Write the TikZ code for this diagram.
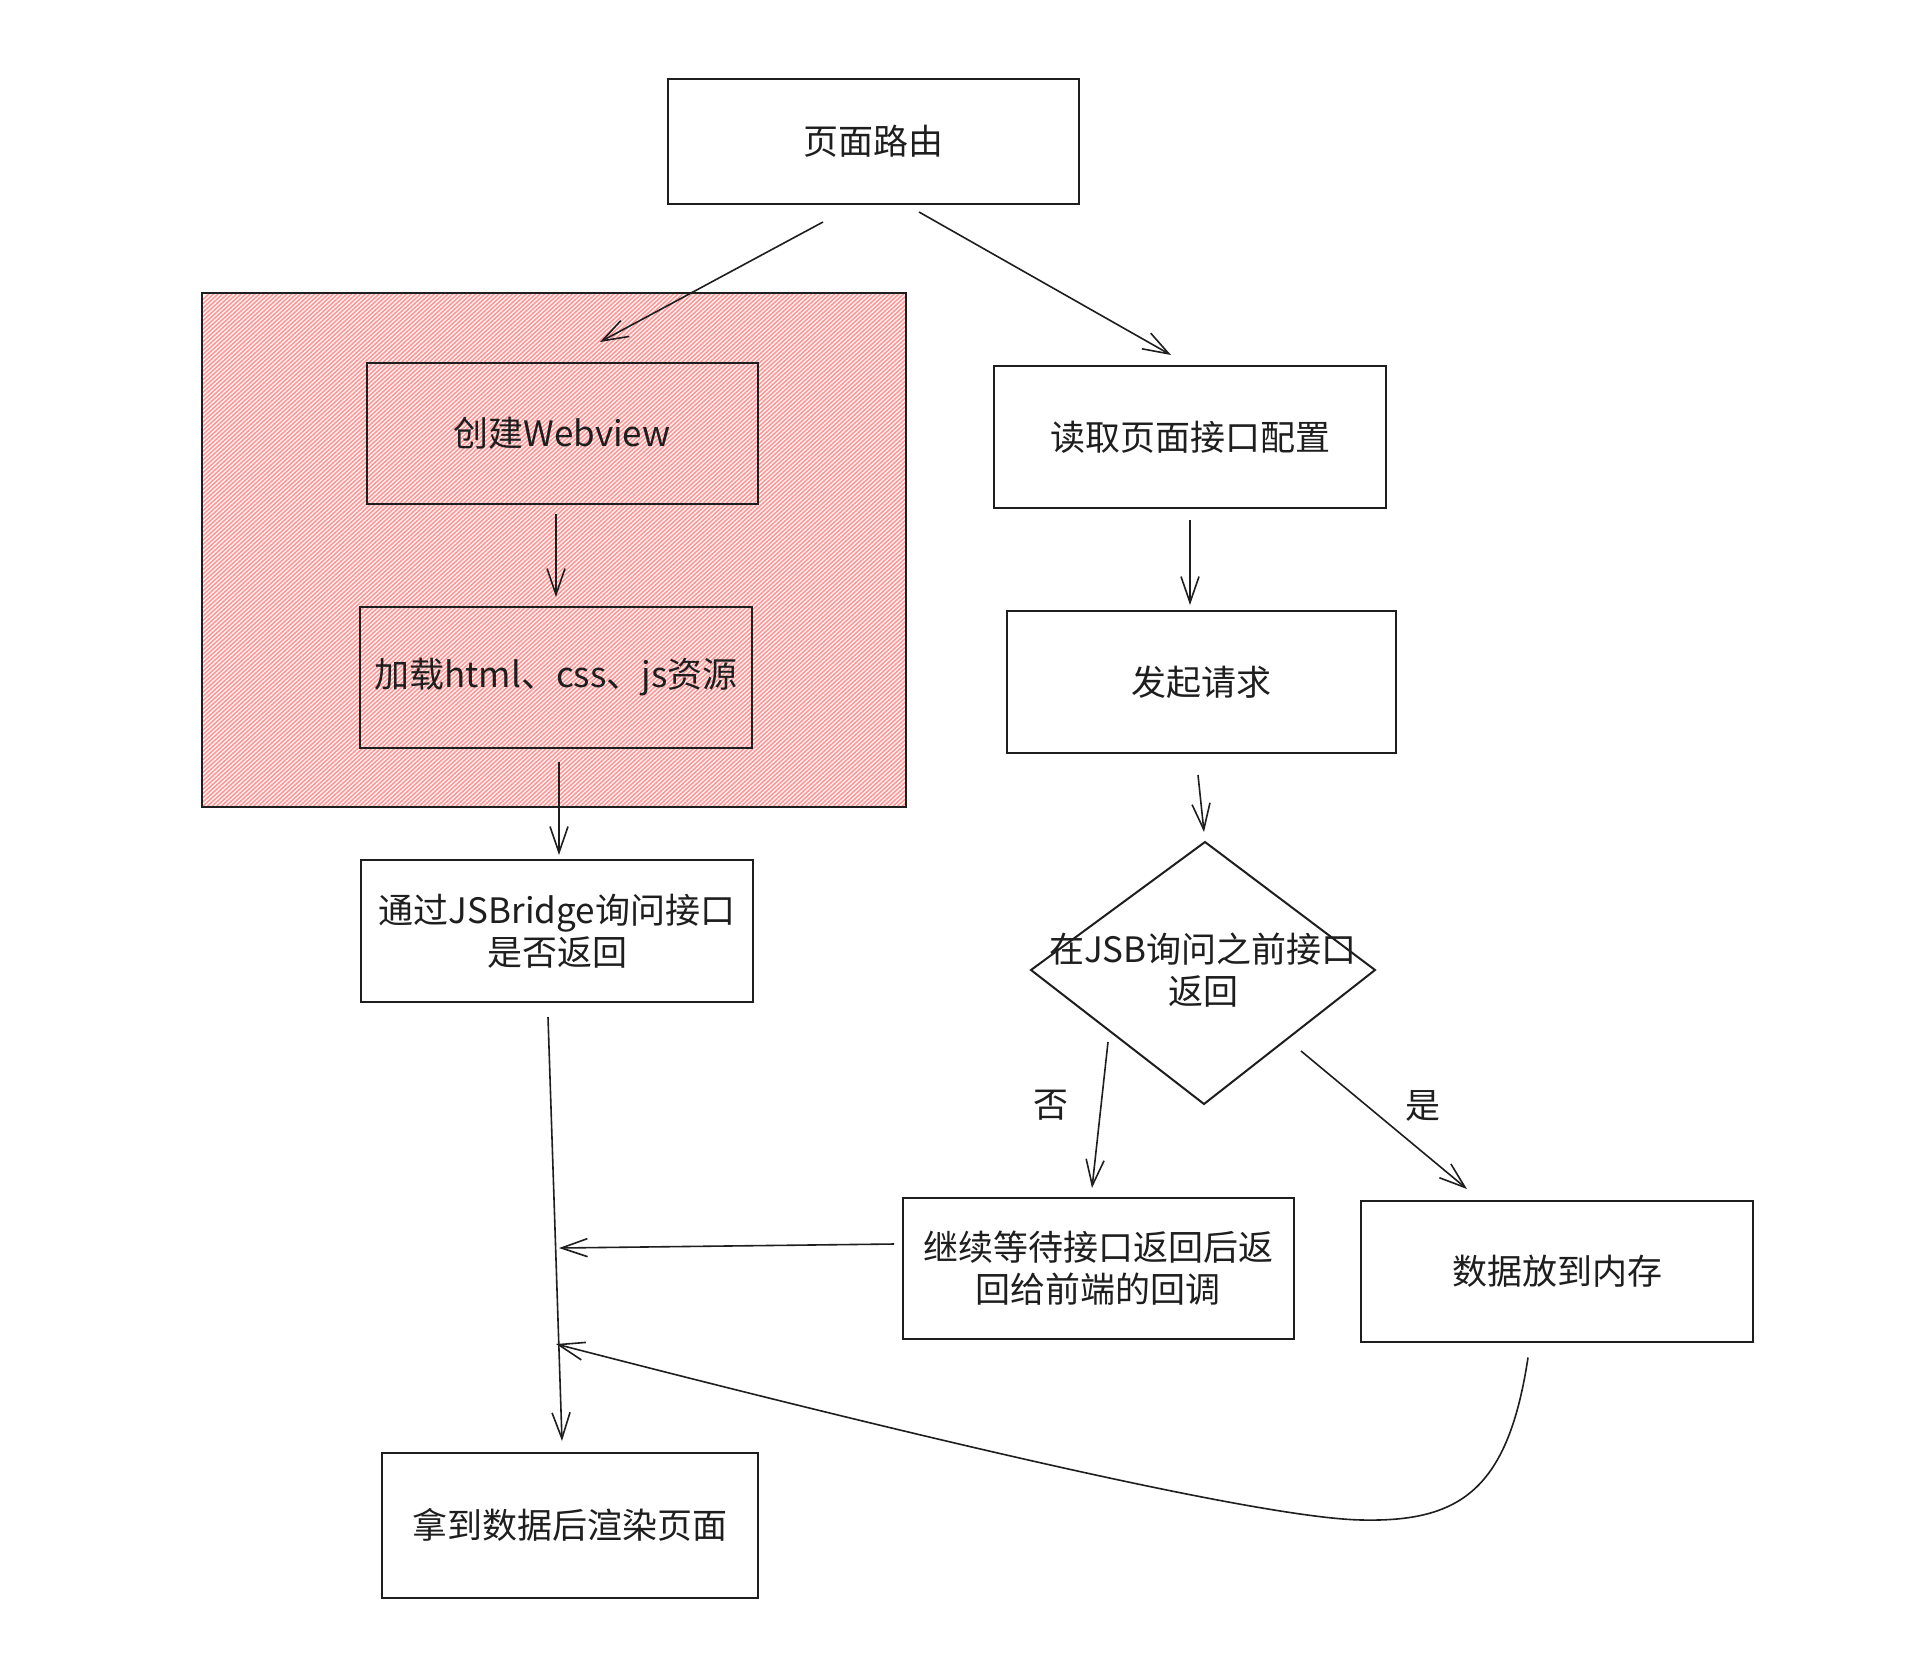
\documentclass[tikz,border=0pt]{standalone}
\usepackage{fontspec}
\setmainfont{Noto Sans CJK SC}
\usetikzlibrary{arrows.meta,calc}
\definecolor{ink}{HTML}{1E1E1E}
\definecolor{hatch}{HTML}{FF9696}
\definecolor{pinkbg}{HTML}{FFF4F4}
\begin{document}
\begin{tikzpicture}[x=0.5pt,y=-0.5pt,
  box/.style={draw=ink, line width=1pt, inner sep=0pt, align=center, text=ink,
    font=\fontsize{17.5}{21}\selectfont},
  lbl/.style={inner sep=0pt, align=center, text=ink, font=\fontsize{17.5}{21}\selectfont},
  arr/.style={draw=ink, line width=0.8pt, -{Straight Barb[length=13pt,width=9pt,line width=0.8pt]}},
  crv/.style={draw=ink, line width=0.8pt}]
\useasboundingbox (0,0) rectangle (1932,1660);
\fill[white] (0,0) rectangle (1932,1660);
% hatched group
\begin{scope}
  \clip (202,293) rectangle (906,807);
  \fill[pinkbg] (202,293) rectangle (906,807);
  \foreach \i in {0,...,280} {
    \draw[hatch, line width=0.75pt] ({-350+\i*4.6},807) -- ++(560,-514);
  }
\end{scope}
\node[box, minimum width=352pt, minimum height=257pt] (group) at (554,550) {};
% nodes
\node[box, minimum width=205.5pt, minimum height=62.5pt] (route) at (873,141) {页面路由};
\node[box, minimum width=195.5pt, minimum height=70.5pt] (create) at (562,433) {创建Webview};
\node[box, minimum width=196pt, minimum height=70.5pt] (load) at (556,677) {加载html、css、js资源};
\node[box, minimum width=196pt, minimum height=71pt] (bridge) at (557,931) {通过JSBridge询问接口\\是否返回};
\node[box, minimum width=188pt, minimum height=72.5pt] (render) at (570,1525) {拿到数据后渲染页面};
\node[box, minimum width=196pt, minimum height=71pt] (read) at (1190,437) {读取页面接口配置};
\node[box, minimum width=194.5pt, minimum height=71pt] (req) at (1201,682) {发起请求};
\node[box, minimum width=195.5pt, minimum height=70.5pt] (wait) at (1098,1268) {继续等待接口返回后返\\回给前端的回调};
\node[box, minimum width=196pt, minimum height=70.5pt] (mem) at (1557,1271) {数据放到内存};
\node[lbl] (dec) at (1203,970) {在JSB询问之前接口\\返回};
\draw[ink, line width=1pt] ($(dec)+(2,-128)$) -- ($(dec)+(172,0)$) -- ($(dec)+(1,134)$) -- ($(dec)+(-172,0)$) -- cycle;
\node[lbl] (no) at (1051,1105) {否};
\node[lbl] (yes) at (1423,1106) {是};
\coordinate (j1) at (559,1248);
\coordinate (j2) at (556,1344);
% connectors
\draw[arr] ($(route.south)+(-50,17.5)$) -- ($(create.north)+(38,-19.5)$);
\draw[arr] ($(route.south)+(46,7.5)$) -- ($(read.north)+(-19,-10)$);
\draw[arr] ($(create.south)+(-6,9.5)$) -- ($(load.north)+(0,-8.5)$);
\draw[arr] ($(load.south)+(3,13.5)$) -- ($(bridge.north)+(2,-4)$);
\draw[arr] ($(bridge.south)+(-9,14)$) -- ($(render.north)+(-8,-10.5)$);
\draw[arr] ($(read.south)+(0,11)$) -- ($(req.north)+(-11,-5)$);
\draw[arr] ($(req.south)+(-3,21)$) -- ($(dec)+(1,-138)$);
\draw[arr] ($(dec)+(-95,72)$) -- ($(wait.north)+(-6,-8.5)$);
\draw[arr] ($(dec)+(98,81)$) -- ($(mem.north)+(-90,-10.5)$);
\draw[arr] ($(wait.west)+(-7.5,-24)$) -- (j1);
\draw[arr] ($(mem.south)+(-29,15)$) .. controls (1508,1490) and (1460,1522) .. (1362,1520)
  .. controls (1250,1518) and (850,1420) .. (j2);
\end{tikzpicture}
\end{document}
